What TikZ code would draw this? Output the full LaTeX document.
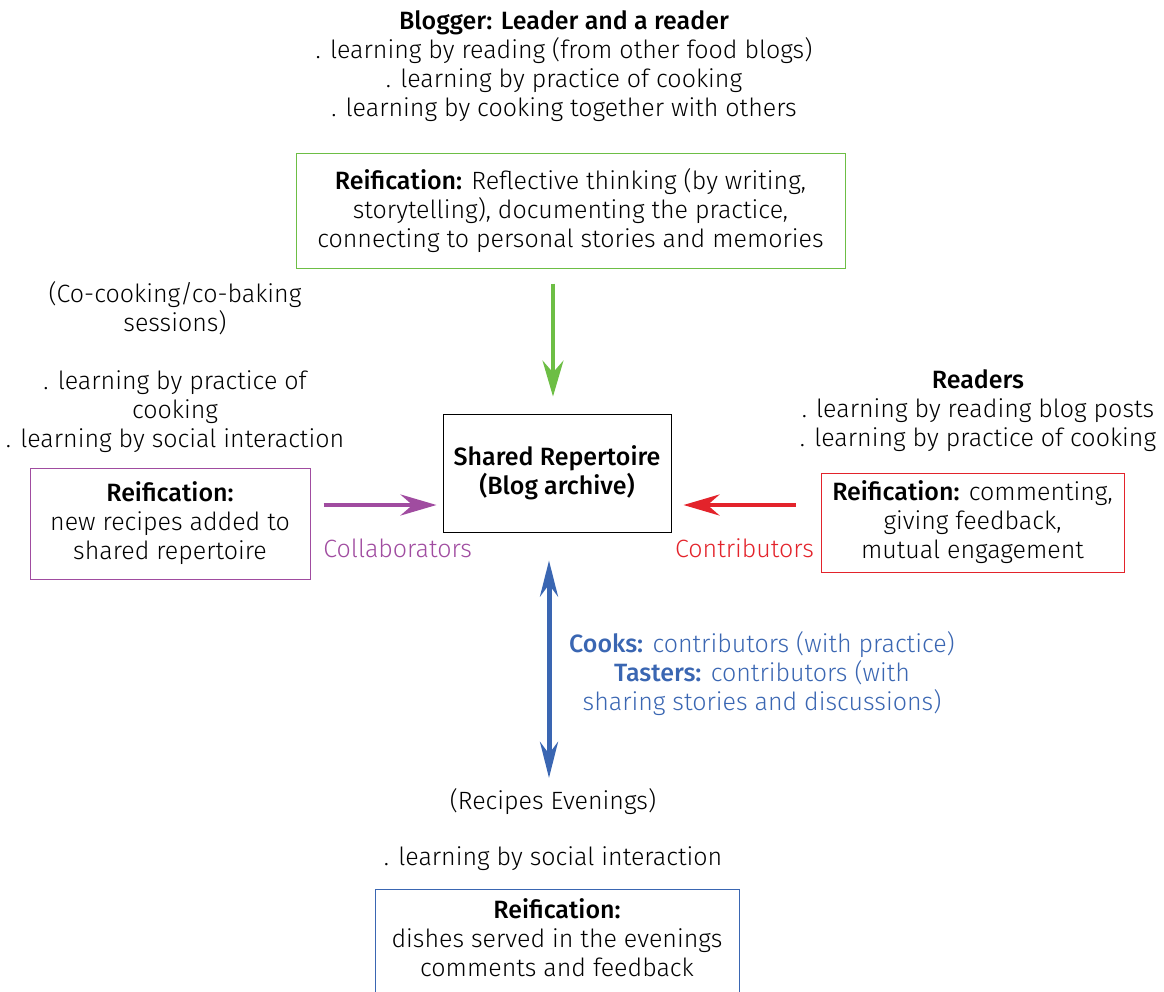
\documentclass[tikz,border=0pt]{standalone}
\usepackage{fontspec}
\setmainfont{Fira Sans Light}[BoldFont={Fira Sans Medium}]
\usepackage{xcolor}
\usetikzlibrary{arrows.meta}

\definecolor{grn}{HTML}{6DBE45}
\definecolor{prp}{HTML}{A04CA0}
\definecolor{rd}{HTML}{E3232B}
\definecolor{blu}{HTML}{3A66B2}

\begin{document}
\begin{tikzpicture}[x=0.5pt,y=-0.5pt,
        every node/.style={font=\fontsize{12.5}{14.5}\selectfont, align=center},
        box/.style={draw, line width=0.5pt},
        arr/.style={line width=2pt, -{Stealth[length=18pt,width=10.5pt,inset=6pt]}}]
    \useasboundingbox (0,0) rectangle (1164,992);

    \node (blogger) at (564,66) {\textbf{Blogger: Leader and a reader}\\
        . learning by reading (from other food blogs)\\
        . learning by practice of cooking\\
        . learning by cooking together with others};
    \node[box, draw=grn, minimum width=274.5pt, minimum height=57.5pt] (gbox) at (570.5,210.5)
        {\textbf{Reification:} Reflective thinking (by writing,\\
        storytelling), documenting the practice,\\
        connecting to personal stories and memories};

    \node[box, minimum width=114pt, minimum height=59pt] (share) at (557,473)
        {\textbf{Shared Repertoire}\\\textbf{(Blog archive)}};

    \node (cocook) at (175,367) {(Co-cooking/co-baking\\sessions)\\ \\
        . learning by practice of\\cooking\\
        . learning by social interaction};
    \node[box, draw=prp, minimum width=140pt, minimum height=55.5pt] (pbox) at (170,523.5)
        {\textbf{Reification:}\\new recipes added to\\shared repertoire};
    \node[anchor=west, text=prp, inner sep=0pt] (collab) at (323,548) {Collaborators};

    \node (readers) at (978,410.5) {\textbf{Readers}\\
        . learning by reading blog posts\\
        . learning by practice of cooking};
    \node[box, draw=rd, minimum width=151.5pt, minimum height=49.5pt] (rbox) at (972.5,522.5)
        {\textbf{Reification:} commenting,\\giving feedback,\\mutual engagement};
    \node[text=rd, inner sep=0pt] (contrib) at (744.5,548) {Contributors};

    \node[text=blu] (cooks) at (762,674) {\textbf{Cooks:} contributors (with practice)\\
        \textbf{Tasters:} contributors (with\\
        sharing stories and discussions)};
    \node (recipes) at (553,802) {(Recipes Evenings)};
    \node (social) at (553,859) {. learning by social interaction};
    \node[box, draw=blu, minimum width=182pt, minimum height=63.5pt] (bbox) at (557,952.5)
        {\textbf{Reification:}\\dishes served in the evenings\\comments and feedback\\ \mbox{}};

    \path (share.north) ++(-4,0) coordinate (gx);
    \path (share.south) ++(-8,0) coordinate (bx);
    \path (share.west) ++(0,32) coordinate (mid);

    \draw[arr, grn, line width=1.6pt, shorten <=7.5pt, shorten >=8.5pt] (gx |- gbox.south) -- (gx);
    \draw[arr, prp, shorten <=6.5pt, shorten >=3pt] (mid -| pbox.east) -- (mid);
    \draw[arr, rd, shorten <=12.5pt, shorten >=6pt] (mid -| rbox.west) -- (mid -| share.east);
    \draw[arr, blu, line width=2.5pt, {Stealth[length=18pt,width=9pt,inset=6pt]}-{Stealth[length=18pt,width=9pt,inset=6pt]},
        shorten <=14pt, shorten >=2pt] (bx) -- (bx |- recipes.north);
\end{tikzpicture}
\end{document}
